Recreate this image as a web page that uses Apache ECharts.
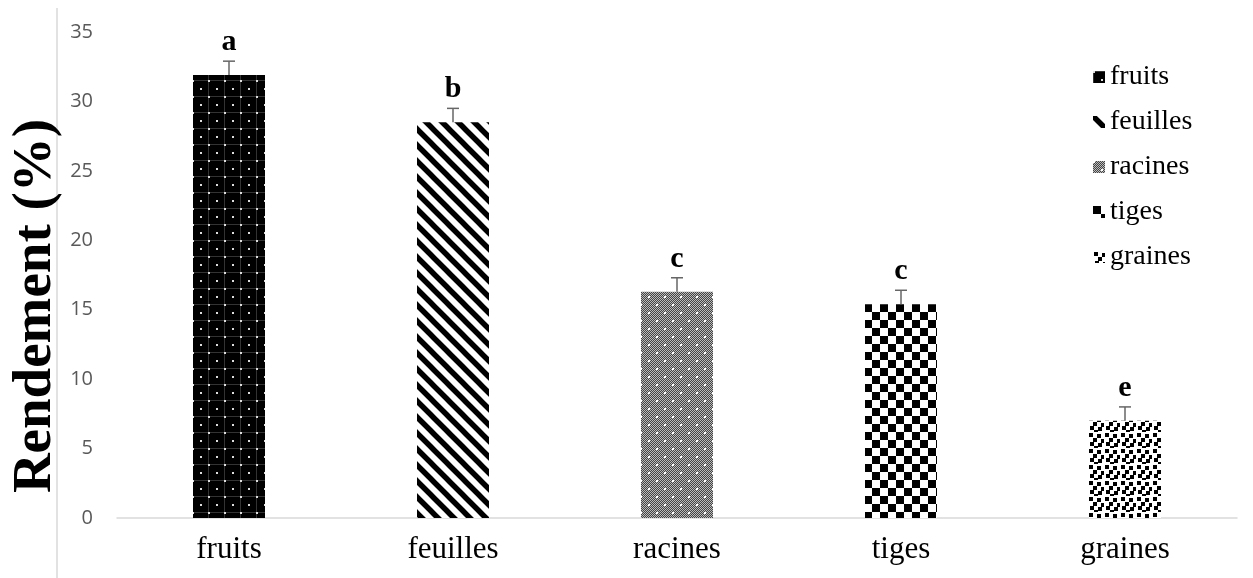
<!DOCTYPE html>
<html><head><meta charset="utf-8">
<script src="https://cdn.jsdelivr.net/npm/echarts@6/dist/echarts.min.js"></script>
<style>html,body{margin:0;padding:0;background:#fff}#c{width:1253px;height:578px}</style>
</head><body><div id="c"></div>
<script>
const categories = ['fruits','feuilles','racines','tiges','graines'];
const values = [31.9, 28.5, 16.3, 15.4, 7.0];
const errors = [1.0, 1.0, 1.0, 1.0, 1.0];
const letters = ['a','b','c','c','e'];
const yTicks = [0,5,10,15,20,25,30,35];
const yTitle = 'Rendement (%)';

function mk(w,h,draw){const c=document.createElement('canvas');c.width=w;c.height=h;const g=c.getContext('2d');draw(g);return {image:c,repeat:'repeat'};}
const patFruits = mk(16,16,g=>{g.fillStyle='#000';g.fillRect(0,0,16,16);g.fillStyle='#333';g.fillRect(0,0,16,1);g.fillRect(0,0,1,16);g.fillStyle='#ddd';g.fillRect(0,0,2,2);g.fillRect(8,8,2,2);});
const patFeuilles = mk(16,16,g=>{g.fillStyle='#fff';g.fillRect(0,0,16,16);g.strokeStyle='#000';g.lineWidth=5.5;g.beginPath();for(let k=-2;k<=2;k++){g.moveTo(k*16-4,-4);g.lineTo(k*16+20,20);}g.stroke();});
const patRacines = mk(16,16,g=>{for(let i=0;i<16;i++)for(let j=0;j<16;j++){g.fillStyle=((i+j)%2)?'#444':'#bbb';g.fillRect(i,j,1,1);}g.fillStyle='#fff';g.fillRect(0,0,2,2);g.fillRect(8,8,2,2);});
const patTiges = mk(16,16,g=>{g.fillStyle='#fff';g.fillRect(0,0,16,16);g.fillStyle='#000';g.fillRect(0,0,8,8);g.fillRect(8,8,8,8);});
const patGraines = mk(16,16,g=>{g.fillStyle='#fff';g.fillRect(0,0,16,16);g.fillStyle='#000';[[1,1],[9,2],[5,6],[13,7],[2,10],[10,11],[6,14]].forEach(p=>g.fillRect(p[0],p[1],4,4));});
const patterns = [patFruits, patFeuilles, patRacines, patTiges, patGraines];

const barSeries = categories.map((name,i)=>({
  name, type:'bar', barWidth:72, barGap:'-100%',
  data: categories.map((c,j)=> j===i ? values[j] : '-'),
  itemStyle:{color:patterns[i]}, silent:true
}));

const errData = categories.map((c,i)=>[i, values[i], errors[i], letters[i]]);

const chart = echarts.init(document.getElementById('c'));
chart.setOption({
  animation:false,
  grid:{left:117,right:16,top:32,bottom:60,containLabel:false,outerBoundsMode:'none'},
  legend:{orient:'vertical',left:1088,top:58,itemGap:17,itemWidth:12,itemHeight:12,
    icon:'rect',textStyle:{fontFamily:'Liberation Serif',fontSize:28,color:'#000'},
    data:categories},
  xAxis:{type:'category',data:categories,
    axisLine:{lineStyle:{color:'#d9d9d9',width:1.5}},axisTick:{show:false},
    axisLabel:{fontFamily:'Liberation Serif',fontSize:31,color:'#000',margin:16}},
  yAxis:{type:'value',min:0,max:35,interval:5,
    axisLine:{show:false},axisTick:{show:false},splitLine:{show:false},
    axisLabel:{fontFamily:'Open Sans',fontSize:20,color:'#595959',margin:24}},
  graphic:[
    {type:'line',shape:{x1:57,y1:8,x2:57,y2:578},style:{stroke:'#d9d9d9',lineWidth:1.5},silent:true},
    {type:'text',x:36,y:306,rotation:Math.PI/2,silent:true,
      style:{text:yTitle,align:'center',verticalAlign:'middle',font:'bold 55px "Liberation Serif"',fill:'#000'}}
  ],
  series: barSeries.concat([{
    type:'custom', data:errData, silent:true, z:10,
    renderItem:(params,api)=>{
      const x=api.value(0), v=api.value(1), e=api.value(2);
      const p0=api.coord([x,v]), p1=api.coord([x,v+e]);
      const lt=errData[params.dataIndex][3];
      return {type:'group',children:[
        {type:'line',shape:{x1:p0[0],y1:p0[1],x2:p1[0],y2:p1[1]},style:{stroke:'#666',lineWidth:1.5}},
        {type:'line',shape:{x1:p1[0]-6,y1:p1[1],x2:p1[0]+6,y2:p1[1]},style:{stroke:'#666',lineWidth:1.5}},
        {type:'text',style:{text:lt,x:p1[0],y:p1[1]-4,align:'center',verticalAlign:'bottom',
          font:'bold 30px "Liberation Serif"',fill:'#000'}}
      ]};
    }
  }])
});
</script></body></html>
